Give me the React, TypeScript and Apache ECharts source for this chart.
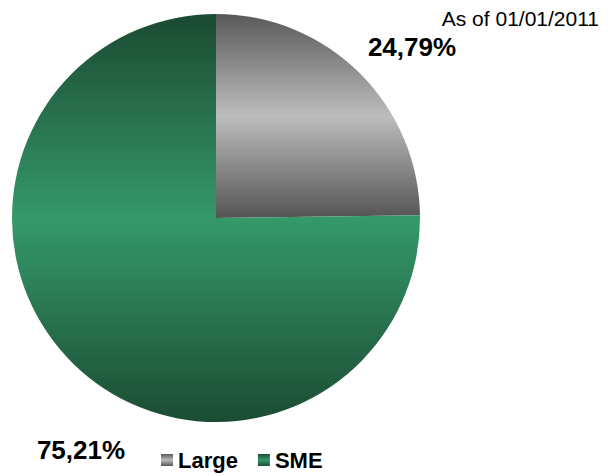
import React, { useEffect, useRef } from "react";
import * as echarts from "echarts";

const categories = ["Large", "SME"];
const values = [24.79, 75.21];
const titleText = "As of 01/01/2011";

const gradients = [
  ["#595959", "#bdbdbd", "#555555"],
  ["#1b4a31", "#35996a", "#1b4c33"],
];

const labelPos = [
  { x: 412, y: 47 },
  { x: 81, y: 450 },
];

export default function App() {
  const ref = useRef<HTMLDivElement>(null);
  useEffect(() => {
    const chart = echarts.init(ref.current!, null, { renderer: "svg" });
    const data = categories.map((name, i) => ({
      name,
      value: values[i],
      itemStyle: {
        color: {
          type: "linear",
          x: 0,
          y: 0,
          x2: 0,
          y2: 1,
          colorStops: [
            { offset: 0, color: gradients[i][0] },
            { offset: 0.5, color: gradients[i][1] },
            { offset: 1, color: gradients[i][2] },
          ],
        },
      },
    }));
    chart.setOption({
      animation: false,
      backgroundColor: "#ffffff",
      title: {
        text: titleText,
        right: 4,
        top: 3,
        textStyle: {
          fontFamily: "Liberation Sans, Arial, sans-serif",
          fontWeight: "normal",
          fontSize: 21,
          color: "#000",
        },
      },
      legend: {
        left: 156,
        top: 444,
        icon: "rect",
        itemWidth: 12,
        itemHeight: 12,
        itemGap: 20,
        textStyle: {
          fontFamily: "Liberation Sans, Arial, sans-serif",
          fontWeight: "bold",
          fontSize: 22,
          color: "#000",
        },
        data: categories,
      },
      series: [
        {
          type: "pie",
          center: [216, 218],
          radius: 204,
          startAngle: 90,
          clockwise: true,
          data,
          label: {
            show: true,
            position: "inside",
            overflow: "none",
            formatter: (p: any) => p.value.toFixed(2).replace(".", ",") + "%",
            fontFamily: "Liberation Sans, Arial, sans-serif",
            fontWeight: "bold",
            fontSize: 26,
            color: "#000",
          },
          labelLine: { show: false },
          labelLayout: (params: any) => ({
            x: labelPos[params.dataIndex].x,
            y: labelPos[params.dataIndex].y,
            align: "center",
            verticalAlign: "middle",
          }),
          emphasis: { disabled: true },
        },
      ],
    });
    return () => chart.dispose();
  }, []);
  return (
    <div
      ref={ref}
      style={{ position: "absolute", left: 0, top: 0, width: 608, height: 476 }}
    />
  );
}
